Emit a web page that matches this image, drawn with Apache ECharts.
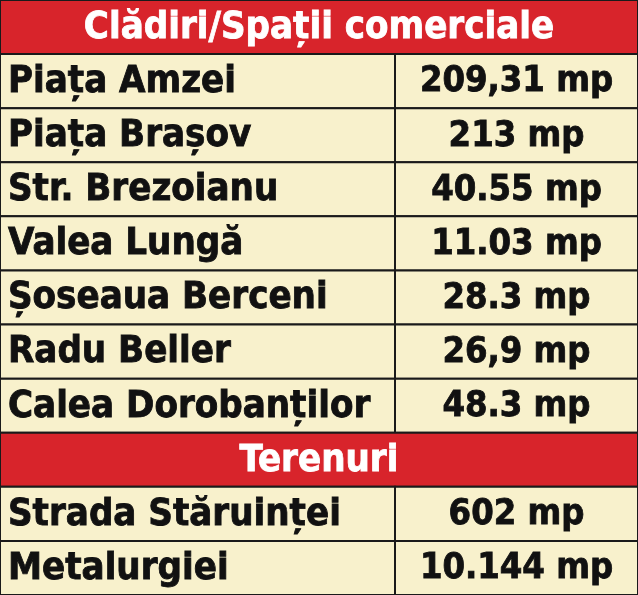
<!DOCTYPE html>
<html><head><meta charset="utf-8">
<script src="https://cdn.jsdelivr.net/npm/echarts@6/dist/echarts.min.js"></script>
<style>html,body{margin:0;padding:0;background:#fff}#c{width:638px;height:595px}</style>
</head><body><div id="c"></div>
<script>
const labels = ["Clădiri/Spații comerciale","Piața Amzei","Piața Brașov","Str. Brezoianu","Valea Lungă","Șoseaua Berceni","Radu Beller","Calea Dorobanților","Terenuri","Strada Stăruinței","Metalurgiei"];
const values = ["","209,31 mp","213 mp","40.55 mp","11.03 mp","28.3 mp","26,9 mp","48.3 mp","","602 mp","10.144 mp"];
const isHeader = [true,false,false,false,false,false,false,false,true,false,false];
const colSplit = 395;
const font = '"DejaVu Sans Condensed","DejaVu Sans",sans-serif';
const chart = echarts.init(document.getElementById('c'));
const data = labels.map((l,i)=>[i,l,values[i],isHeader[i]?1:0]);
chart.setOption({
  animation:false,
  grid:{left:0,right:0,top:0,bottom:0},
  xAxis:{type:'value',min:0,max:638,show:false},
  yAxis:{type:'category',inverse:true,data:labels.map((_,i)=>i),show:false},
  series:[{
    type:'custom',
    data:data,
    renderItem:function(params,api){
      const i=api.value(0);
      const hdr=api.value(3)===1;
      const c=api.coord([0,i]);
      const h=api.size([0,1])[1];
      const y0=c[1]-h/2;
      const x0=api.coord([0,0])[0], x1=api.coord([638,0])[0], xs=api.coord([colSplit,0])[0];
      const ch=[];
      if(hdr){
        ch.push({type:'rect',shape:{x:x0,y:y0,width:x1-x0,height:h},style:{fill:'#d8242b',stroke:'#1a1a1a',lineWidth:2}});
        ch.push({type:'text',style:{text:labels[i],x:(x0+x1)/2,y:c[1]+1,align:'center',verticalAlign:'middle',fill:'#fff',stroke:'#fff',lineWidth:0.8,font:'bold 38px '+font}});
      } else {
        ch.push({type:'rect',shape:{x:x0,y:y0,width:xs-x0,height:h},style:{fill:'#f8f1cc',stroke:'#1a1a1a',lineWidth:2}});
        ch.push({type:'rect',shape:{x:xs,y:y0,width:x1-xs,height:h},style:{fill:'#f8f1cc',stroke:'#1a1a1a',lineWidth:2}});
        ch.push({type:'text',style:{text:labels[i],x:x0+8,y:c[1]+1,align:'left',verticalAlign:'middle',fill:'#111',stroke:'#111',lineWidth:0.8,font:'bold 38px '+font}});
        ch.push({type:'text',style:{text:values[i],x:(xs+x1)/2,y:c[1]+1,align:'center',verticalAlign:'middle',fill:'#111',stroke:'#111',lineWidth:0.8,font:'bold 36px '+font}});
      }
      return {type:'group',children:ch};
    }
  }]
});
</script></body></html>
